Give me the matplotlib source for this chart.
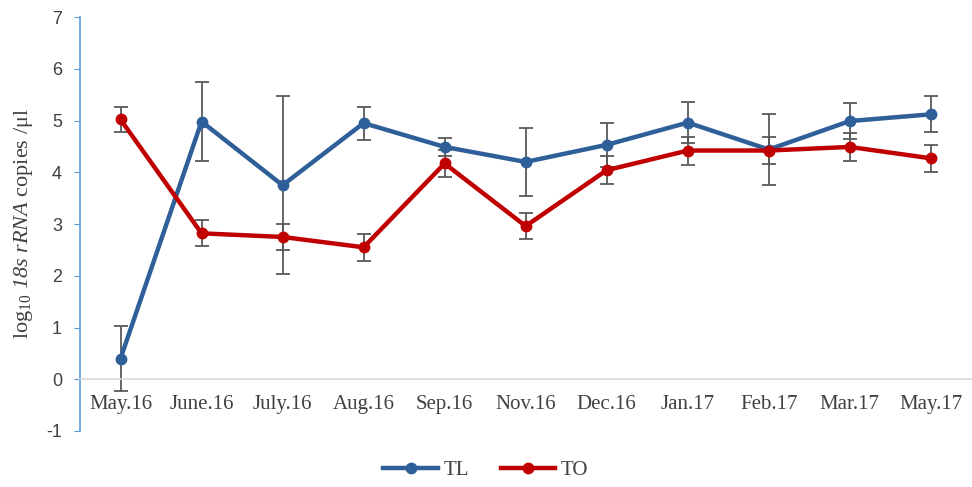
import numpy as np
import matplotlib
matplotlib.use("Agg")
import matplotlib.pyplot as plt

plt.rcParams["font.family"] = ["Liberation Serif", "DejaVu Serif"]
plt.rcParams["mathtext.fontset"] = "custom"
plt.rcParams["mathtext.rm"] = "Liberation Serif"
plt.rcParams["mathtext.it"] = "Liberation Serif:italic"
# sf se usa como cursiva que tambien inclina los digitos
plt.rcParams["mathtext.sf"] = "Liberation Serif:italic"
plt.rcParams["axes.unicode_minus"] = False

meses = ["May.16", "June.16", "July.16", "Aug.16", "Sep.16", "Nov.16",
         "Dec.16", "Jan.17", "Feb.17", "Mar.17", "May.17"]

tl_media = [0.40, 4.98, 3.75, 4.95, 4.49, 4.20, 4.53, 4.96, 4.44, 4.99, 5.12]
tl_error = [0.63, 0.77, 1.72, 0.32, 0.18, 0.65, 0.42, 0.40, 0.68, 0.34, 0.35]

to_media = [5.02, 2.82, 2.75, 2.55, 4.17, 2.96, 4.04, 4.42, 4.42, 4.49, 4.27]
to_error = [0.25, 0.25, 0.26, 0.26, 0.27, 0.25, 0.27, 0.27, 0.26, 0.27, 0.26]

AZUL = "#2F5F98"
ROJO = "#C00000"
GRIS = "#595959"

fig = plt.figure(figsize=(9.72, 4.87), dpi=100)
ax = fig.add_axes([0.0823, 0.115, 0.917, 0.85])

# eje de categorias cruzando en y=0 (antes de fijar etiquetas, resetea ticks)
ax.spines["top"].set_visible(False)
ax.spines["right"].set_visible(False)
ax.spines["left"].set_color("#5B9BD5")
ax.spines["left"].set_linewidth(1.2)
ax.spines["bottom"].set_position(("data", 0))
ax.spines["bottom"].set_color("#D9D9D9")
ax.spines["bottom"].set_linewidth(1.2)

x = np.arange(len(meses))

for media, error, color, nombre in [(tl_media, tl_error, AZUL, "TL"),
                                    (to_media, to_error, ROJO, "TO")]:
    ax.errorbar(x, media, yerr=error, fmt="none", ecolor=GRIS, elinewidth=1.3,
                capsize=5, capthick=1.3, zorder=2)
    ax.plot(x, media, color=color, lw=3.2, marker="o", ms=7.5, label=nombre,
            zorder=3)

ax.set_xlim(-0.5, len(meses) - 0.5)
ax.set_ylim(-1, 7)
ax.set_yticks(range(-1, 8))
ax.tick_params(axis="y", colors="#5B9BD5", length=4, pad=9, labelsize=13,
               labelcolor="#404040", labelfontfamily="Liberation Sans")

ax.set_xticks(x)
ax.set_xticklabels(meses)
ax.tick_params(axis="x", length=0, pad=11, labelsize=15, labelcolor="#404040")

ax.set_ylabel(r"log$_{10}$ $\mathsf{18s\ rRNA}$ copies /μl", fontsize=16,
              color="#404040", labelpad=8)

fig.legend(loc="lower center", bbox_to_anchor=(0.5, -0.025), ncol=2,
           frameon=False, fontsize=15, handlelength=2.6, columnspacing=1.5,
           handletextpad=0.3, labelcolor="#404040")

fig.savefig("out.png", dpi=100)
